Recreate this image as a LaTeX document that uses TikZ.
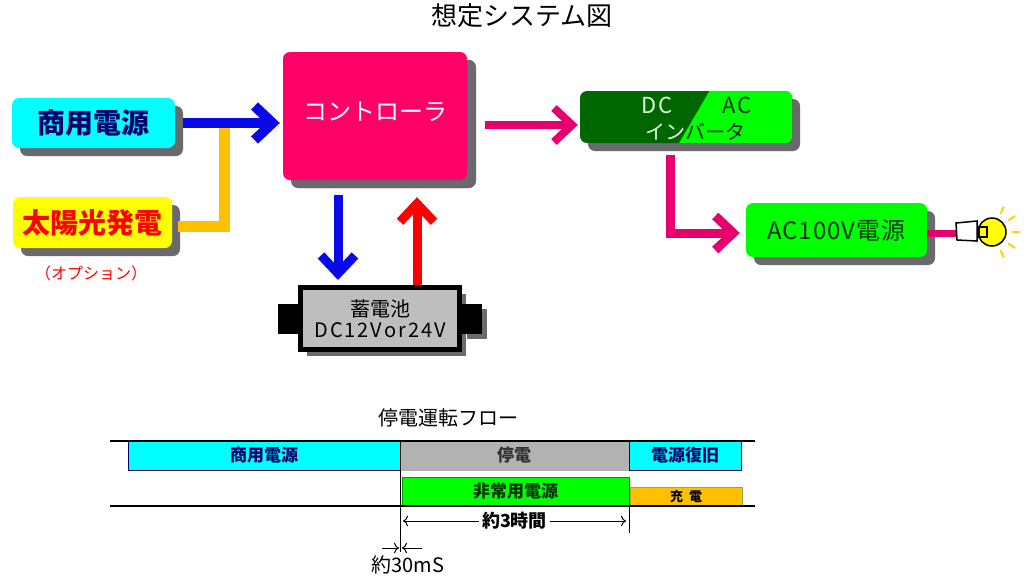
\documentclass[tikz,border=0pt]{standalone}
\usepackage{fontspec}
\setmainfont{Noto Sans CJK JP}
\usetikzlibrary{arrows.meta}
\usetikzlibrary{positioning}
\usetikzlibrary{shadows}
\usetikzlibrary{calc}

\definecolor{cyanbox}{RGB}{0,255,255}
\definecolor{navytext}{RGB}{0,0,110}
\definecolor{ctrlpink}{RGB}{255,0,102}
\definecolor{linkpink}{RGB}{230,0,110}
\definecolor{shade}{RGB}{105,105,110}
\definecolor{solar}{RGB}{255,192,0}
\definecolor{arrblue}{RGB}{10,10,230}
\definecolor{arrred}{RGB}{255,0,0}
\definecolor{darkinv}{RGB}{0,102,0}
\definecolor{lightinv}{RGB}{0,255,0}
\definecolor{inktext}{RGB}{0,50,0}
\definecolor{batgray}{RGB}{190,190,190}
\definecolor{outgray}{RGB}{178,178,178}
\definecolor{bordgreen}{RGB}{0,150,0}
\definecolor{bordolive}{RGB}{170,160,60}
\definecolor{raygold}{RGB}{255,210,0}
\definecolor{bulbyel}{RGB}{255,255,0}

\begin{document}
\begin{tikzpicture}[x=1pt,y=-1pt,
  box/.style={rounded corners=7pt,inner sep=0pt,
    drop shadow={shadow xshift=8pt,shadow yshift=-8pt,fill=shade,opacity=1}},
  fat/.style={line width=10pt,-{Straight Barb[length=18pt,width=34pt]}},
  bar/.style={draw=#1,line width=1pt,inner sep=0pt,minimum height=29pt},
  font=\fontsize{17pt}{19pt}\selectfont]
\useasboundingbox (0,0) rectangle (1027,582);

% system
\node (title) at (522,16) {\fontsize{26pt}{28pt}\selectfont 想定システム図};

\node[box,fill=cyanbox,minimum width=163pt,minimum height=50pt,text=navytext,
  font=\fontsize{28pt}{30pt}\selectfont\bfseries] (shoyo) at (93.5,123) {商用電源};
\node[box,fill=bulbyel,minimum width=159pt,minimum height=51pt,text=arrred,
  font=\fontsize{28pt}{30pt}\selectfont\bfseries] (taiyo) at (92.5,222.5) {太陽光発電};
\node[text=arrred,font=\fontsize{16pt}{18pt}\selectfont] (opt) at (91,273) {（オプション）};

\node[box,fill=ctrlpink,minimum width=184pt,minimum height=128pt,
  drop shadow={shadow xshift=9pt,shadow yshift=-8pt,fill=shade,opacity=1}] (ctrl) at (375,116) {};
\node[text=white,font=\fontsize{24pt}{26pt}\selectfont] (ctrltxt) at (375,112) {コントローラ};

% inverter, two tones
\node[box,fill=darkinv,minimum width=212pt,minimum height=52pt] (inv) at (686,117) {};
\begin{scope}
  \clip[rounded corners=7pt] (inv.north west) rectangle (inv.south east);
  \fill[lightinv] (713,85) -- (800,85) -- (800,150) -- (675,150) -- cycle;
\end{scope}
\node[text=white!85!green,font=\fontsize{22pt}{24pt}\selectfont\addfontfeature{LetterSpace=6}] (dc) at (657,105) {DC};
\node[text=inktext,font=\fontsize{22pt}{24pt}\selectfont\addfontfeature{LetterSpace=6}] (ac) at (737,105) {AC};
\begin{scope}
  \clip (570,85) -- (713,85) -- (675,150) -- (570,150) -- cycle;
  \node[text=white!85!green,font=\fontsize{20pt}{22pt}\selectfont] (invL) at (695,132) {インバータ};
\end{scope}
\begin{scope}
  \clip (713,85) -- (800,85) -- (800,150) -- (675,150) -- cycle;
  \node[text=inktext,font=\fontsize{20pt}{22pt}\selectfont] (invR) at (695,132) {インバータ};
\end{scope}

\node[box,fill=lightinv,minimum width=181pt,minimum height=54pt,text=inktext,
  font=\fontsize{24pt}{26pt}\selectfont\addfontfeature{LetterSpace=4}] (ac100) at (836.5,230) {AC100V電源};

% battery
\node[draw=black,line width=5pt,fill=batgray,minimum width=159pt,minimum height=62pt,
  align=center,inner sep=0pt,font=\fontsize{20pt}{21pt}\selectfont,
  drop shadow={shadow xshift=6pt,shadow yshift=-6pt,fill=shade,opacity=1}] (batt) at (380,318.5)
  {蓄電池\\{\addfontfeature{LetterSpace=10}DC12Vor24V}};
\node[fill=black,minimum width=20pt,minimum height=30pt,inner sep=0pt,left=0pt of batt] (termL) {};
\node[fill=black,minimum width=20pt,minimum height=30pt,inner sep=0pt,right=0pt of batt,
  drop shadow={shadow xshift=5pt,shadow yshift=-5pt,fill=shade,opacity=1}] (termR) {};

% links
\coordinate (tap) at (224,123);
\draw[solar,line width=11pt] ([xshift=6pt,yshift=-3.5pt]taiyo.east) -| (tap);
\draw[fat,arrblue] ([xshift=8pt]shoyo.east) -- ([xshift=-3pt]ctrl.west |- shoyo.east);
\draw[fat,arrblue,line width=9pt] ([xshift=-37pt,yshift=-15pt]ctrl.south) -- ([xshift=-42pt,yshift=5pt]batt.north);
\draw[fat,arrred,line width=9pt] ([xshift=37pt]batt.north) -- ([xshift=42pt,yshift=-17pt]ctrl.south);
\draw[fat,linkpink,line width=8pt] ([xshift=18pt,yshift=-9pt]ctrl.east) -- ([xshift=-2pt,yshift=-8pt]inv.west);
\draw[fat,linkpink,line width=9pt]
  ([xshift=-16pt,yshift=-12pt]inv.south) |- ([xshift=-6pt,yshift=-3pt]ac100.west);

% lamp
\coordinate (sock) at (957,233);
\draw[linkpink,line width=7pt] (ac100.east |- sock) -- (sock);
\node[circle,draw,line width=1.5pt,fill=bulbyel,minimum size=28pt,inner sep=0pt] (bulb) at (992,232) {};
\draw[line width=1.5pt,fill=white] (956,223) -- (977,221) -- (977,241) -- (957,240) -- cycle;
\draw[line width=1.5pt] (979,227) rectangle (987,237);
\foreach \a in {65,35,0,-35,-65}
  \draw[raygold,line width=2pt] (bulb.center) ++(\a:20) -- ++(\a:8);

% outage flow
\node (flow) at (448,418) {\fontsize{20pt}{22pt}\selectfont 停電運転フロー};
\node[bar=navytext,fill=cyanbox,minimum width=272pt,text=navytext,font=\fontsize{17pt}{19pt}\selectfont\bfseries]
  (normal) at (264,455.5) {商用電源};
\node[bar=outgray,fill=outgray,minimum width=228pt,text=black!80,font=\fontsize{17pt}{19pt}\selectfont\bfseries]
  (outage) at (514,455.5) {停電};
\node[bar=navytext,fill=cyanbox,minimum width=112pt,text=navytext,font=\fontsize{17pt}{19pt}\selectfont\bfseries]
  (back) at (685,455.5) {電源復旧};
\node[bar=bordgreen,fill=lightinv,minimum width=227pt,text=inktext,font=\fontsize{17pt}{19pt}\selectfont\bfseries]
  (emerg) at (515.5,491.5) {非常用電源};
\node[bar=bordolive,fill=solar,minimum width=112pt,minimum height=19pt,text=black,font=\fontsize{13pt}{15pt}\selectfont\bfseries]
  (charge) at (686,496.5) {充\hspace{6pt}電};
\draw[line width=1.2pt] (110,441) -- (755,441);
\draw[line width=2pt] (normal.north east) -- (back.north west);
\draw[line width=1.2pt] (110,506) -- (755,506);
\draw[line width=1.5pt] (normal.north east) -- ++(0,111);
\draw[line width=1pt] (emerg.south east) -- ++(0,26);

\coordinate (dl) at (403,521);
\coordinate (dr) at (626,521);
\draw[{To[length=5pt]}-{To[length=5pt]},line width=1pt] (dl) -- (dr)
  node[midway,fill=white,inner sep=3pt,font=\fontsize{18pt}{20pt}\selectfont\bfseries] (span) {約3時間};

\coordinate (gapL) at (382,548);
\coordinate (gapR) at (422,548);
\draw[-{To[length=5pt]},line width=1pt] (gapL) -- ++(17,0);
\draw[-{To[length=5pt]},line width=1pt] (gapR) -- ++(-20,0);
\node (gap) at (408,565) {\fontsize{20pt}{22pt}\selectfont 約30mS};
\end{tikzpicture}
\end{document}
